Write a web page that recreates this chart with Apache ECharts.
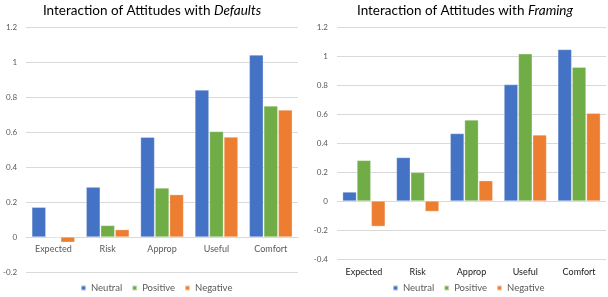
<!DOCTYPE html>
<html><head><meta charset="utf-8">
<script src="https://cdn.jsdelivr.net/npm/echarts@6/dist/echarts.min.js"></script>
<style>html,body{margin:0;padding:0;background:#fff}#c{width:608px;height:297px}</style>
</head><body><div id="c"></div>
<script>
const categories = ['Expected','Risk','Approp','Useful','Comfort'];
const seriesNames = ['Neutral','Positive','Negative'];
const defaultsNeutral  = [0.17, 0.285, 0.57, 0.84, 1.04];
const defaultsPositive = [0.0, 0.066, 0.28, 0.603, 0.749];
const defaultsNegative = [-0.03, 0.042, 0.242, 0.571, 0.726];
const framingNeutral  = [0.062, 0.30, 0.465, 0.803, 1.045];
const framingPositive = [0.28, 0.197, 0.559, 1.015, 0.923];
const framingNegative = [-0.175, -0.072, 0.14, 0.456, 0.605];
const colors = ['#4472C4','#70AD47','#ED7D31'];
const FONT = 'Lato';

const chart = echarts.init(document.getElementById('c'), null, {renderer:'canvas'});
function bar(name, data, i, axis){
  return {name, type:'bar', data, xAxisIndex:axis, yAxisIndex:axis,
    barGap:'4%', barCategoryGap:'21%',
    itemStyle:{color:colors[i], borderColor:'rgba(255,255,255,0.6)', borderWidth:0.5}};
}
const gridLine = {show:true, lineStyle:{color:'#d9d9d9', width:1}};
const yLabel = {color:'#595959', fontSize:8, fontFamily:FONT, margin:9,
  formatter: v => String(Math.round(v*10)/10)};
const titleStyle = {fontFamily:FONT, fontSize:13.5, fontWeight:'normal', color:'#000',
  rich:{i:{fontStyle:'italic', fontFamily:FONT, fontSize:13.5, color:'#000'}}};
const legendBase = {data:seriesNames, top:283, padding:0, itemWidth:5, itemHeight:5, itemGap:9, icon:'rect',
  textStyle:{fontFamily:FONT, fontSize:9.5, color:'#595959'}};
chart.setOption({
  animation:false,
  color:colors,
  title:[
    {text:'Interaction of Attitudes with {i|Defaults}', left:152, top:4, padding:0, textAlign:'center', textStyle:titleStyle},
    {text:'Interaction of Attitudes with {i|Framing}', left:465, top:4, padding:0, textAlign:'center', textStyle:titleStyle}
  ],
  legend:[
    Object.assign({left:80}, legendBase),
    Object.assign({left:392}, legendBase)
  ],
  grid:[
    {left:26, top:27, width:272, height:245},
    {left:337, top:27, width:269, height:232}
  ],
  xAxis:[
    {type:'category', data:categories, gridIndex:0, axisTick:{show:false},
     position:'bottom', offset:-35,
     axisLine:{show:true, onZero:false, lineStyle:{color:'#d9d9d9'}},
     axisLabel:{color:'#595959', fontSize:9, fontFamily:FONT, margin:8}},
    {type:'category', data:categories, gridIndex:1, axisTick:{show:false},
     axisLine:{show:false, onZero:false},
     axisLabel:{color:'#1a1a1a', fontSize:9, fontFamily:FONT, margin:9}}
  ],
  yAxis:[
    {type:'value', gridIndex:0, min:-0.2, max:1.2, interval:0.2, axisLine:{show:false},
     axisTick:{show:false}, splitLine:gridLine, axisLabel:yLabel},
    {type:'value', gridIndex:1, min:-0.4, max:1.2, interval:0.2, axisLine:{show:false},
     axisTick:{show:false}, splitLine:gridLine, axisLabel:yLabel}
  ],
  series:[
    bar('Neutral', defaultsNeutral, 0, 0),
    bar('Positive', defaultsPositive, 1, 0),
    bar('Negative', defaultsNegative, 2, 0),
    bar('Neutral', framingNeutral, 0, 1),
    bar('Positive', framingPositive, 1, 1),
    bar('Negative', framingNegative, 2, 1)
  ]
});
</script></body></html>
